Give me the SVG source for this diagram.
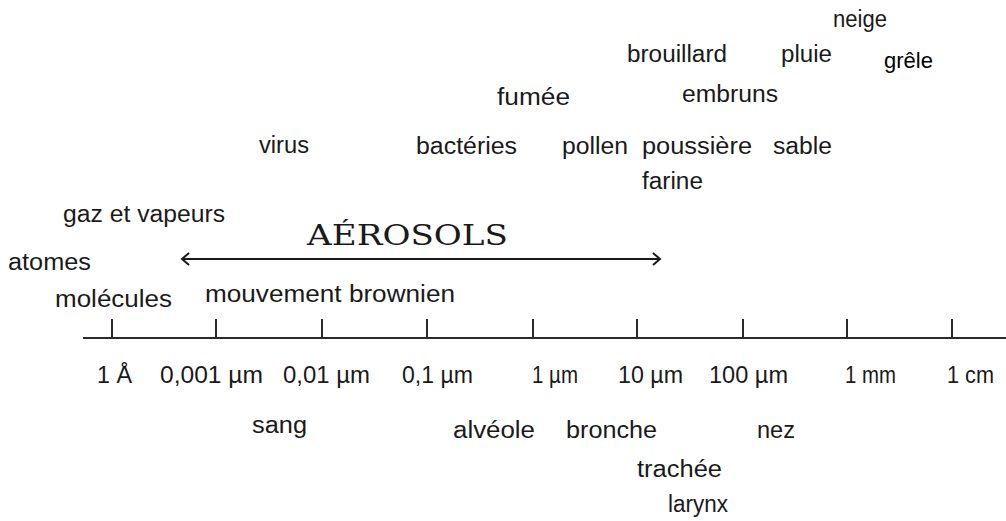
<svg xmlns="http://www.w3.org/2000/svg" width="1006" height="521" viewBox="0 0 1006 521">
<defs>
<style>
.t{font-family:"Liberation Sans",Arial,sans-serif;font-size:23px;fill:#1a1a1a}
.g{font-family:"Liberation Sans",Arial,sans-serif;font-size:22px;fill:#000}
.a{font-family:"DejaVu Serif","Liberation Serif",serif;font-size:28px;fill:#1a1a1a}
.ax{stroke:#2a2a2a;stroke-width:2;fill:none}
.ar{stroke:#1a1a1a;stroke-width:2;fill:none}
</style>
</defs>
<rect width="1006" height="521" fill="#fff"/>
<g id="particles">
<text class="t" x="833" y="27" textLength="54" lengthAdjust="spacingAndGlyphs">neige</text>
<text class="t" x="627" y="62" textLength="100" lengthAdjust="spacingAndGlyphs">brouillard</text>
<text class="t" x="781" y="62" textLength="51" lengthAdjust="spacingAndGlyphs">pluie</text>
<text class="g" x="884" y="68">grêle</text>
<text class="t" x="497" y="105" textLength="73" lengthAdjust="spacingAndGlyphs">fumée</text>
<text class="t" x="682" y="102" textLength="96" lengthAdjust="spacingAndGlyphs">embruns</text>
<text class="t" x="259" y="153" textLength="50" lengthAdjust="spacingAndGlyphs">virus</text>
<text class="t" x="416" y="154" textLength="101" lengthAdjust="spacingAndGlyphs">bactéries</text>
<text class="t" x="562" y="154" textLength="66" lengthAdjust="spacingAndGlyphs">pollen</text>
<text class="t" x="642" y="154" textLength="110" lengthAdjust="spacingAndGlyphs">poussière</text>
<text class="t" x="773" y="154" textLength="59" lengthAdjust="spacingAndGlyphs">sable</text>
<text class="t" x="642" y="189" textLength="61" lengthAdjust="spacingAndGlyphs">farine</text>
<text class="t" x="63" y="222" textLength="162" lengthAdjust="spacingAndGlyphs">gaz et vapeurs</text>
<text class="t" x="8" y="270" textLength="83" lengthAdjust="spacingAndGlyphs">atomes</text>
<text class="t" x="55" y="307" textLength="117" lengthAdjust="spacingAndGlyphs">molécules</text>
<text class="t" x="205" y="302" textLength="250" lengthAdjust="spacingAndGlyphs">mouvement brownien</text>
</g>
<g id="aerosols">
<text class="a" x="307" y="245" textLength="201" lengthAdjust="spacingAndGlyphs">AÉROSOLS</text>
</g>
<g id="connectors">
<line class="ar" x1="183" y1="259" x2="659" y2="259"/>
<polyline class="ar" points="189,253 182,259 189,265"/>
<polyline class="ar" points="653,253 660,259 653,265"/>
</g>
<g id="axis">
<line class="ax" x1="83" y1="338" x2="1006" y2="338"/>
<path class="ax" d="M112 319V338M216 319V338M322 319V338M427 319V338M533 319V338M637 319V338M743 319V338M847 319V338M952 319V338"/>
</g>
<g id="scale">
<text class="t" x="97" y="383" textLength="35" lengthAdjust="spacingAndGlyphs">1 Å</text>
<text class="t" x="160" y="383" textLength="103" lengthAdjust="spacingAndGlyphs">0,001 µm</text>
<text class="t" x="283" y="383" textLength="87" lengthAdjust="spacingAndGlyphs">0,01 µm</text>
<text class="t" x="402" y="383" textLength="71" lengthAdjust="spacingAndGlyphs">0,1 µm</text>
<text class="t" x="532" y="383" textLength="46" lengthAdjust="spacingAndGlyphs">1 µm</text>
<text class="t" x="618" y="383" textLength="65" lengthAdjust="spacingAndGlyphs">10 µm</text>
<text class="t" x="709" y="383" textLength="79" lengthAdjust="spacingAndGlyphs">100 µm</text>
<text class="t" x="845" y="383" textLength="51" lengthAdjust="spacingAndGlyphs">1 mm</text>
<text class="t" x="947" y="383" textLength="47" lengthAdjust="spacingAndGlyphs">1 cm</text>
</g>
<g id="body">
<text class="t" x="252" y="433" textLength="55" lengthAdjust="spacingAndGlyphs">sang</text>
<text class="t" x="453" y="438" textLength="82" lengthAdjust="spacingAndGlyphs">alvéole</text>
<text class="t" x="566" y="438" textLength="91" lengthAdjust="spacingAndGlyphs">bronche</text>
<text class="t" x="757" y="438" textLength="38" lengthAdjust="spacingAndGlyphs">nez</text>
<text class="t" x="637" y="477" textLength="85" lengthAdjust="spacingAndGlyphs">trachée</text>
<text class="t" x="668" y="512" textLength="60" lengthAdjust="spacingAndGlyphs">larynx</text>
</g>
</svg>
